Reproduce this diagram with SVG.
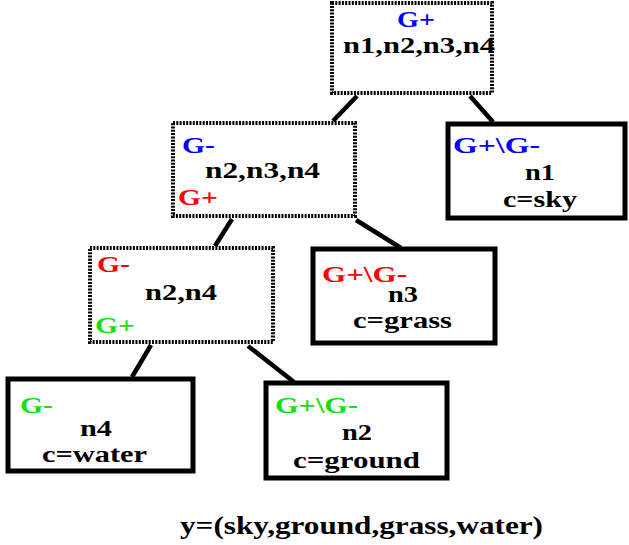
<svg xmlns="http://www.w3.org/2000/svg" width="629" height="545" viewBox="0 0 629 545" font-family="Liberation Serif, Times New Roman, serif" font-weight="bold" font-size="24">
<style>
.dot{fill:#fff;stroke:#000;stroke-width:4;stroke-dasharray:2 1.3}
.box{fill:#fff;stroke:#000;stroke-width:5}
.con{stroke:#000;stroke-width:4.5;fill:none}
.k{fill:#000}.b{fill:#0000ff}.r{fill:#ff0000}.g{fill:#11e011}
</style>
<rect width="629" height="545" fill="#fff"/>
<g id="connectors">
<line class="con" x1="357" y1="96" x2="333" y2="121"/>
<line class="con" x1="470" y1="96" x2="493" y2="122"/>
<line class="con" x1="232" y1="219" x2="215" y2="246"/>
<line class="con" x1="356" y1="220" x2="401" y2="248"/>
<line class="con" x1="151" y1="345" x2="132" y2="377"/>
<line class="con" x1="248" y1="346" x2="294" y2="382"/>
</g>
<g id="root">
<rect class="dot" x="332" y="3" width="160" height="90"/>
<text class="b" x="397" y="27" textLength="38" lengthAdjust="spacingAndGlyphs">G+</text>
<text class="k" x="343" y="53" textLength="152" lengthAdjust="spacingAndGlyphs">n1,n2,n3,n4</text>
</g>
<g id="n234">
<rect class="dot" x="173" y="123" width="182" height="93"/>
<text class="b" x="182" y="153" textLength="33" lengthAdjust="spacingAndGlyphs">G-</text>
<text class="k" x="205" y="178" textLength="115" lengthAdjust="spacingAndGlyphs">n2,n3,n4</text>
<text class="r" x="178" y="205" textLength="40" lengthAdjust="spacingAndGlyphs">G+</text>
</g>
<g id="n24">
<rect class="dot" x="90" y="248" width="183" height="94"/>
<text class="r" x="97" y="272" textLength="33" lengthAdjust="spacingAndGlyphs">G-</text>
<text class="k" x="145" y="300" textLength="72" lengthAdjust="spacingAndGlyphs">n2,n4</text>
<text class="g" x="95" y="333" textLength="40" lengthAdjust="spacingAndGlyphs">G+</text>
</g>
<g id="n1">
<rect class="box" x="448" y="124" width="177" height="94"/>
<text class="b" x="453" y="153" textLength="87" lengthAdjust="spacingAndGlyphs">G+\G-</text>
<text class="k" x="525" y="180" textLength="30" lengthAdjust="spacingAndGlyphs">n1</text>
<text class="k" x="503" y="207" textLength="74" lengthAdjust="spacingAndGlyphs">c=sky</text>
</g>
<g id="n3">
<rect class="box" x="313" y="249" width="182" height="94"/>
<text class="r" x="322" y="282" textLength="85" lengthAdjust="spacingAndGlyphs">G+\G-</text>
<text class="k" x="388" y="302" textLength="30" lengthAdjust="spacingAndGlyphs">n3</text>
<text class="k" x="353" y="328" textLength="99" lengthAdjust="spacingAndGlyphs">c=grass</text>
</g>
<g id="n4">
<rect class="box" x="8" y="379" width="185" height="92"/>
<text class="g" x="20" y="413" textLength="33" lengthAdjust="spacingAndGlyphs">G-</text>
<text class="k" x="80" y="436" textLength="32" lengthAdjust="spacingAndGlyphs">n4</text>
<text class="k" x="42" y="462" textLength="105" lengthAdjust="spacingAndGlyphs">c=water</text>
</g>
<g id="n2">
<rect class="box" x="266" y="383" width="181" height="95"/>
<text class="g" x="275" y="413" textLength="83" lengthAdjust="spacingAndGlyphs">G+\G-</text>
<text class="k" x="342" y="440" textLength="30" lengthAdjust="spacingAndGlyphs">n2</text>
<text class="k" x="293" y="468" textLength="127" lengthAdjust="spacingAndGlyphs">c=ground</text>
</g>
<text class="k" x="180" y="534" font-size="26" textLength="363" lengthAdjust="spacingAndGlyphs">y=(sky,ground,grass,water)</text>
</svg>
